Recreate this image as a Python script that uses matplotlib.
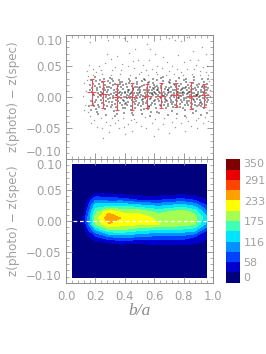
import matplotlib
matplotlib.use('Agg')
import matplotlib.pyplot as plt
from matplotlib.colors import ListedColormap, BoundaryNorm

W, H = 266.0, 354.0
GREY = '#8c8c8c'
TEXT = '#a0a0a0'

# scatter, (b/a, dz)
outliers = [(.16,.088),(.283,.092),(.392,.095),(.414,.09),(.277,.07),(.344,.066),(.43,.071),(.472,.078),(.491,.06),(.453,.058),
    (.303,.061),(.223,.05),(.184,.045),(.158,.051),(.202,.04),(.262,.055),(.331,.049),(.384,.053),(.421,.05),(.462,.047),
    (.371,.043),(.312,.044),(.241,.044),(.143,.042),(.551,.085),(.573,.078),(.642,.093),(.703,.095),(.741,.092),(.783,.09),
    (.822,.096),(.604,.07),(.663,.065),(.762,.068),(.861,.075),(.923,.08),(.952,.07),(.522,.052),(.564,.06),(.621,.05),
    (.684,.056),(.722,.05),(.803,.056),(.842,.06),(.884,.052),(.901,.06),(.934,.048),(.962,.05),(.583,.045),(.652,.047),
    (.754,.045),(.823,.046),(.872,.045),(.513,.041),(.541,.044),(.612,.04),(.703,.042),(.784,.04),(.914,.042),(.951,.04),
    (.213,-.048),(.244,-.05),(.192,-.036),(.164,-.03),(.273,-.04),(.302,-.045),(.331,-.042),(.362,-.05),(.394,-.048),(.423,-.043),
    (.452,-.055),(.474,-.04),(.252,-.066),(.171,-.041),(.293,-.056),(.404,-.06),(.513,-.046),(.542,-.05),(.584,-.042),(.623,-.052),
    (.661,-.044),(.704,-.058),(.742,-.048),(.783,-.042),(.812,-.054),(.853,-.046),(.894,-.05),(.931,-.042),(.963,-.038),(.602,-.062),
    (.723,-.04),(.832,-.038),(.881,-.037),(.443,-.037),(.352,-.036),(.123,.022),(.134,.01),(.113,.002),(.131,-.012),(.142,.028),
    (.124,-.02),(.153,.034),(.151,-.024),(.981,.012),(.984,-.006),(.973,.026),(.972,-.02),(.982,.002),
    (.186,.036),(.248,.037),(.305,.035),(.367,.038),(.433,.036),(.494,.038),(.558,.035),(.617,.037),(.678,.035),(.736,.038),
    (.798,.036),(.858,.037),(.912,.035),(.968,.036),(.238,-.033),(.316,-.034),(.388,-.033),(.465,-.035),(.536,-.032),(.605,-.035),
    (.669,-.033),(.747,-.034),(.817,-.032),(.896,-.034),(.944,-.032)]

band = [(.163,.012),(.207,-.004),(.171,.027),(.233,.016),(.182,-.011),(.251,.006),(.194,.033),(.268,-.019),(.221,.001),(.289,.011),
    (.313,-.007),(.242,.024),(.337,.003),(.276,-.014),(.354,.018),(.296,.031),(.371,-.002),(.326,-.023),(.398,.009),(.346,.013),
    (.417,-.012),(.363,.027),(.436,.005),(.388,-.017),(.458,.014),(.409,.001),(.479,-.006),(.428,.022),(.501,.008),(.447,-.026),
    (.523,-.003),(.468,.017),(.544,.012),(.491,-.013),(.567,.025),(.512,.003),(.586,-.009),(.533,.029),(.608,.006),(.556,-.019),
    (.627,.015),(.577,-.001),(.649,-.015),(.598,.019),(.668,.002),(.618,-.024),(.691,.011),(.639,.007),(.712,-.008),(.659,.032),
    (.733,.021),(.681,-.004),(.754,.004),(.702,.014),(.776,-.016),(.724,-.011),(.797,.009),(.746,.026),(.818,.017),(.767,-.002),
    (.839,-.006),(.788,.013),(.861,.023),(.809,-.021),(.882,.003),(.831,.006),(.903,-.013),(.852,-.009),(.924,.016),(.873,.028),
    (.946,.001),(.894,-.003),(.962,.012),(.915,.008),(.938,-.017),(.957,.021),(.168,-.006),(.197,.018),(.226,-.016),(.258,.029),
    (.284,-.003),(.307,.015),(.333,-.011),(.359,.006),(.383,.024),(.404,-.018),(.431,.012),(.452,-.004),(.476,.031),(.497,-.009),
    (.519,.018),(.541,.004),(.563,-.014),(.582,.011),(.604,-.005),(.622,.027),(.647,.014),(.664,-.012),(.686,.004),(.709,.023),
    (.728,-.007),(.751,.016),(.771,.002),(.793,-.018),(.814,.024),(.835,.009),(.857,-.011),(.877,.015),(.899,.005),(.921,-.008),
    (.941,.025),(.967,-.004),(.176,.008),(.203,-.019),(.238,.009),(.263,.019),(.292,-.008),(.318,.026),(.342,-.016),(.368,.009),
    (.392,.001),(.414,.016),(.441,-.021),(.463,.007),(.486,.021),(.507,-.015),(.529,.011),(.552,-.006),(.573,.016),(.593,.003),
    (.613,-.017),(.634,.009),(.656,.021),(.676,-.008),(.697,.007),(.718,-.022),(.739,.012),(.761,.005),(.783,.021),(.804,-.004),
    (.826,.012),(.847,-.016),(.868,.007),(.889,.019),(.911,-.005),(.933,.009),(.953,-.012),(.187,.021),(.216,.006),(.247,-.009),
    (.272,.004),(.301,.022),(.323,-.002),(.349,-.027),(.376,.016),(.401,.007),(.423,-.007),(.447,.018),(.469,-.011),(.493,.004),
    (.516,.026),(.537,-.001),(.559,.008),(.579,-.024),(.601,.013),(.624,-.003),(.643,.018),(.671,.005),(.693,-.014),(.714,.017),
    (.737,.001),(.758,-.006),(.779,.011),(.801,.028),(.823,-.009),(.844,.003),(.866,-.019),(.887,.011),(.908,.021),(.929,-.002),
    (.949,.006),(.969,.015),(.158,-.015),(.211,.011),(.229,.028),(.254,-.002),(.281,.017),(.309,.005),(.329,.012),(.357,-.006),
    (.379,-.013),(.407,.021),(.427,.002),(.449,.009),(.472,-.017),(.496,.014),(.514,-.005),(.534,.019),(.561,.002),(.589,.014),
    (.607,-.011),(.629,.004),(.652,-.007),(.673,.013),(.699,.024),(.719,.003),(.743,-.013),(.764,.009),(.786,-.008),(.807,.015),
    (.829,.001),(.849,.018),(.871,-.005),(.892,-.015),(.913,.002),(.936,.014),(.959,-.007),(.173,-.021),(.189,.003),(.218,-.012),
    (.236,.002),(.266,.012),(.287,.026),(.316,-.012),(.339,.009),(.361,.001),(.386,.013),(.411,-.009),(.434,.026),(.456,.003),
    (.481,-.001),(.503,.017),(.526,-.011),(.548,.015),(.569,-.003),(.591,.022),(.611,.005),(.637,-.013),(.658,.002),(.679,.017),
    (.706,-.002),(.726,.011),(.748,-.004),(.769,.018),(.791,.006),(.811,-.012),(.833,.019),(.855,.001),(.876,-.013),(.897,.008),
    (.919,.012),(.943,-.004),(.964,.004),(.179,.015),(.199,-.008),(.223,.021),(.249,.013),(.271,-.006),(.298,-.002),(.321,.019),
    (.344,.004),(.366,-.009),(.391,.019),(.412,-.002),(.439,-.014),(.459,.011),(.484,.006),(.506,.001),(.531,-.019),(.551,.009),
    (.571,.006),(.596,-.006),(.616,.011),(.641,.001),(.661,.026),(.683,-.018),(.701,.009),(.731,-.016),(.752,.008),(.774,-.011),
    (.795,.003),(.816,-.001),(.837,.014),(.859,.006),(.879,-.008),(.901,.016),(.926,-.011),(.947,.011),(.166,.019),(.214,-.024),
    (.244,.005),(.279,.008),(.304,-.016),(.335,.021),(.351,-.001),(.381,.006),(.396,-.006),(.425,.008),(.444,.001),(.466,-.003),
    (.489,.012),(.511,-.021),(.538,.007),(.557,.023),(.581,-.012),(.599,.008),(.619,.018),(.645,-.002),(.667,.009),(.689,-.006),
    (.711,.002),(.735,.006),(.756,-.014),(.777,.007),(.799,.014),(.821,-.006),(.841,-.002),(.864,.013),(.885,-.022),(.906,.001),
    (.931,.003),(.955,.016),(.191,-.014),(.231,.004),(.261,-.012),(.294,.004),(.328,.007),(.356,.012),(.374,.004),(.402,-.011),
    (.419,.011),(.442,.006),(.461,-.008),(.483,.016),(.504,.011),(.527,.002),(.546,-.009),(.566,.012),(.587,.007),(.609,.001),
    (.632,-.006),(.654,.006),(.674,.001),(.696,-.011),(.716,.008),(.741,.019),(.763,-.001),(.785,.002),(.806,.007),(.827,-.013),
    (.851,.011),(.869,.002),(.891,.004),(.916,-.014),(.939,.006),(.961,-.001),(.183,.005),(.209,.014),(.239,-.005),(.269,.001),
    (.291,.016),(.319,.002),(.341,-.005),(.364,.021),(.389,-.004),(.416,.004),(.437,-.002),(.456,.013),(.478,.002),(.499,.006),
    (.521,-.008),(.543,.001),(.565,-.016),(.584,.005),(.606,.017),(.628,.011),(.651,.003),(.672,-.003),(.694,.012),(.717,-.005),
    (.738,.004),(.759,.013),(.781,-.005),(.802,-.002),(.824,.005),(.846,.008),(.867,-.003),(.888,.002),(.909,-.009),(.934,.018),
    (.201,.026),(.256,.014),(.311,.029),(.369,.025),(.426,.029),(.482,.024),(.539,.027),(.594,.029),(.649,.031),(.707,.028),
    (.766,.031),(.819,.03),(.874,.032),(.927,.029),(.967,.03),(.217,-.027),(.274,-.028),(.331,-.03),(.393,-.026),(.455,-.029),
    (.518,-.027),(.574,-.03),(.633,-.026),(.692,-.029),(.753,-.027),(.808,-.03),(.863,-.026),(.918,-.028),(.956,-.026)]

out_x = [p[0] for p in outliers]
out_y = [p[1] for p in outliers]
band_x = [p[0] for p in band]
band_y = [p[1] for p in band]

# binned means with scatter
bin_x = [.175, .25, .35, .45, .549, .648, .75, .85, .94]
bin_xerr = [.03, .034, .03, .034, .034, .034, .034, .036, .03]
bin_y = [.0085, .005, .001, .001, .002, .002, .004, .002, .003]
bin_lo = [-.013, -.017, -.02, -.02, -.017, -.017, -.016, -.019, -.016]
bin_hi = [.030, .026, .0205, .023, .021, .023, .023, .024, .021]

# density grid for the lower panel
grid_x = [.045, .12, .2, .29, .38, .5, .63, .79, .875, .955]
grid_y = [-.092, -.06, -.045, -.035, -.025, -.015, -.005, .005, .015, .025, .035, .045, .06, .092]
counts = [
    [0, 0, 0, 0, 0, 0, 0, 0, 0, 0],
    [0, 0, 1, 2, 2, 2, 2, 2, 2, 0],
    [0, 0, 8, 12, 12, 12, 15, 14, 10, 5],
    [0, 5, 20, 30, 35, 32, 38, 38, 33, 25],
    [0, 10, 55, 90, 100, 90, 80, 80, 60, 32],
    [0, 18, 110, 165, 170, 150, 135, 135, 125, 60],
    [0, 28, 178, 232, 218, 210, 205, 190, 178, 110],
    [0, 35, 185, 258, 230, 222, 195, 200, 185, 130],
    [0, 20, 165, 226, 198, 195, 165, 190, 165, 95],
    [0, 10, 130, 135, 140, 125, 110, 130, 110, 60],
    [0, 4, 82, 70, 70, 48, 50, 65, 50, 30],
    [0, 0, 29, 25, 15, 14, 12, 18, 15, 8],
    [0, 0, 4, 3, 3, 3, 2, 3, 2, 0],
    [0, 0, 0, 0, 0, 0, 0, 0, 0, 0],
]
levels = [0, 29.2, 58.3, 87.5, 116.7, 145.8, 175, 204.2, 233.3, 262.5, 291.7, 320.8, 350]
colors = ['#00007f', '#0000cd', '#0040ff', '#0090ff', '#00e4ff', '#40ffb8',
          '#a4ff50', '#ffff00', '#ffa000', '#ff4400', '#e80000', '#800000']
cbar_labels = [0, 58, 116, 175, 233, 291, 350]


def box(x0, y0, x1, y1):
    return [x0 / W, 1 - y1 / H, (x1 - x0) / W, (y1 - y0) / H]


def style_axis(ax):
    ax.set_xlim(0, 1)
    ax.set_ylim(-.1, .1)
    ax.set_xticks([0, .2, .4, .6, .8, 1.0])
    ax.set_xticks([i * .04 for i in range(26)], minor=True)
    ax.set_yticks([-.1, -.05, 0, .05, .1])
    ax.set_yticks([i * .01 - .1 for i in range(21)], minor=True)
    ax.tick_params(which='major', direction='in', top=True, right=True, length=4, width=.6, color=GREY,
                   labelcolor=TEXT, labelsize=8.4, pad=3)
    ax.tick_params(which='minor', direction='in', top=True, right=True, length=2, width=.5, color=GREY)
    ax.set_yticklabels(['\u22120.10', '\u22120.05', '0.00', '0.05', '0.10'])
    labs = ax.get_yticklabels()
    labs[0].set_va('bottom')
    labs[-1].set_va('top')
    for s in ax.spines.values():
        s.set_color(GREY)
        s.set_linewidth(.7)
    ax.set_ylabel('z(photo) \u2212 z(spec)', color=TEXT, fontsize=8.6)
    ax.yaxis.set_label_coords(-46 / 147.0, .5)


fig = plt.figure(figsize=(2.66, 3.54), dpi=100)

ax1 = fig.add_axes(box(66, 35, 213, 159.3))
ax1.plot(out_x, out_y, 's', ms=.9, mew=0, color='k', alpha=.4)
ax1.plot(band_x, band_y, 's', ms=1.8, mew=0, color='k', alpha=.38)
yerr = [[m - l for m, l in zip(bin_y, bin_lo)], [h - m for m, h in zip(bin_y, bin_hi)]]
ax1.errorbar(bin_x, bin_y, xerr=bin_xerr, yerr=yerr, fmt='none', ecolor='#e8505a', elinewidth=.8, capsize=0)
ax1.plot(bin_x, bin_hi, '_', ms=2.5, mew=.8, color='#e8505a')
ax1.plot(bin_x, bin_lo, '_', ms=2.5, mew=.8, color='#e8505a')
style_axis(ax1)
ax1.tick_params(axis='x', labelbottom=False)

ax2 = fig.add_axes(box(66, 159.3, 213, 282.7))
ax2.contourf(grid_x, grid_y, counts, levels=levels, colors=colors, extend='neither')
ax2.plot([grid_x[0], grid_x[-1]], [0, 0], color='white', lw=.9, dashes=(3, 2.2))
style_axis(ax2)
ax2.set_xticklabels(['0.0', '0.2', '0.4', '0.6', '0.8', '1.0'])
ax2.tick_params(axis='x', pad=5)
ax2.set_xlabel('b/a', color='#8a8a8a', fontsize=12.5, family='Liberation Serif', style='italic', labelpad=0)

cax = fig.add_axes(box(226, 159.3, 239.5, 282.7))
cmap = ListedColormap(colors)
cax.pcolormesh([0, 1], levels, [[v] for v in levels[:-1]], cmap=cmap, norm=BoundaryNorm(levels, cmap.N))
cax.set_xticks([])
cax.yaxis.tick_right()
cax.set_yticks(cbar_labels)
cax.set_yticklabels([str(v) for v in cbar_labels])
cax.tick_params(axis='y', length=0, labelcolor=TEXT, labelsize=8, pad=3)
labs = cax.get_yticklabels()
labs[0].set_va('bottom')
labs[-1].set_va('top')
for s in cax.spines.values():
    s.set_visible(False)

fig.savefig('out.png', dpi=100)
